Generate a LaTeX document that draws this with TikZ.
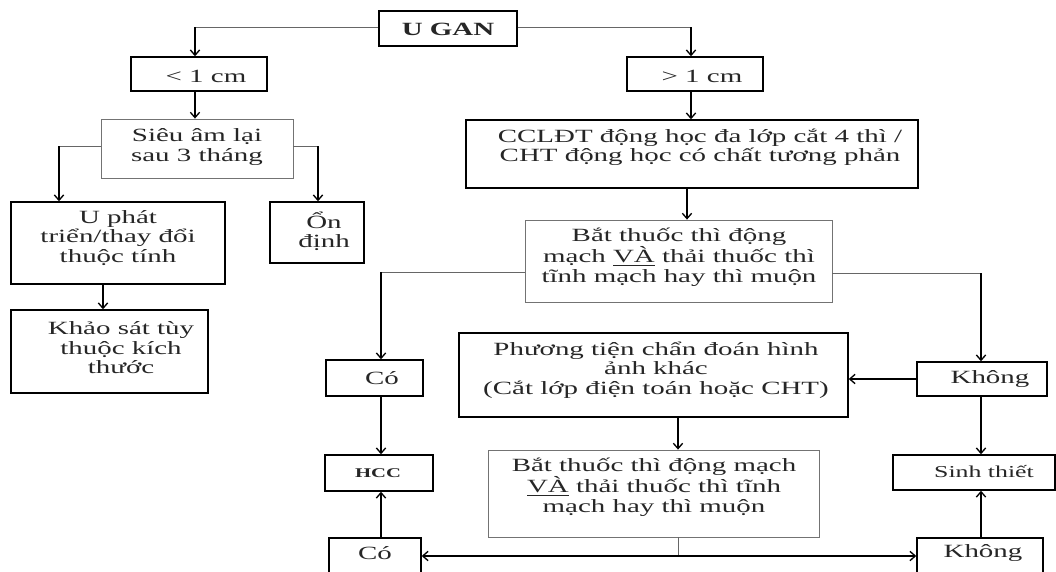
\documentclass[tikz,border=0pt]{standalone}
\usepackage{fontspec}
\setmainfont{Liberation Serif}[FakeStretch=1.55]
\usetikzlibrary{arrows.meta}
\begin{document}
\begin{tikzpicture}[x=0.75pt,y=-0.75pt,
  box/.style={draw=black,line width=1.1pt,inner sep=0pt},
  thinbox/.style={draw=black!55,line width=0.6pt,inner sep=0pt},
  wh/.style 2 args={minimum width=#1*0.75pt,minimum height=#2*0.75pt},
  txt/.style={inner sep=0pt,align=center,text=black!85,font=\fontsize{14}{14.6}\selectfont},
  hl/.style={draw=black!60,line width=0.6pt},
  ml/.style={draw=black,line width=0.8pt},
  vl/.style={draw=black,line width=1.1pt},
  arr/.style={-{Straight Barb[length=4pt,width=7pt,line width=1pt]}},
]
\useasboundingbox (0,0) rectangle (1056,571);
\clip (0,0) rectangle (1056,571);
\fill[white] (0,0) rectangle (1056,571);

% boxes
\node[box,wh={138}{35}] (ugan) at (448,28.5) {};
\node[box,wh={136}{34}] (lt) at (199,74) {};
\node[box,wh={136}{34}] (gt) at (695,74) {};
\node[thinbox,wh={192}{59}] (sieu) at (197,148.5) {};
\node[box,wh={214}{82}] (uphat) at (118,243) {};
\node[box,wh={94}{61}] (ondinh) at (317,232.5) {};
\node[box,wh={197}{83}] (khaosat) at (109.5,351.5) {};
\node[box,wh={452}{68}] (cclt) at (692,154) {};
\node[thinbox,wh={307}{82}] (bat1) at (678.5,261) {};
\node[box,wh={97}{36}] (co1) at (374.5,378) {};
\node[box,wh={108}{36}] (hcc) at (379,473) {};
\node[box,wh={92}{42}] (co2) at (375,559) {};
\node[box,wh={389}{84}] (pt) at (653.5,375) {};
\node[box,wh={130}{34}] (khong1) at (982,379) {};
\node[thinbox,wh={331}{87}] (bat2) at (653.5,493.5) {};
\node[box,wh={162}{35}] (sinh) at (974,472.5) {};
\node[box,wh={126}{42}] (khong2) at (980,559) {};

% texts
\node[txt,font=\bfseries\fontsize{14}{14.6}\selectfont] (uganT) at (448,29) {U GAN};
\node[txt] (ltT) at (206,76) {< 1 cm};
\node[txt] (gtT) at (702,76) {> 1 cm};
\node[txt] (sieuT) at (197,147) {Siêu âm lại\\sau 3 tháng};
\node[txt] (uphatT) at (118,238) {U phát\\triển/thay đổi\\thuộc tính};
\node[txt] (ondinhT) at (324,231) {Ổn\\định};
\node[txt] (khaosatT) at (121,348) {Khảo sát tùy\\thuộc kích\\thước};
\node[txt] (ccltT) at (700,147) {CCLĐT động học đa lớp cắt 4 thì /\\CHT động học có chất tương phản};
\node[txt] (bat1T) at (679,257) {Bắt thuốc thì động\\mạch \underline{VÀ} thải thuốc thì\\tĩnh mạch hay thì muộn};
\node[txt] (co1T) at (382,378) {Có};
\node[txt,font=\bfseries\fontsize{10}{11}\selectfont] (hccT) at (378,473) {HCC};
\node[txt] (co2T) at (375,553) {Có};
\node[txt] (ptT) at (656,370) {Phương tiện chẩn đoán hình\\ảnh khác\\(Cắt lớp điện toán hoặc CHT)};
\node[txt] (khong1T) at (990,379) {Không};
\node[txt] (bat2T) at (654,487) {Bắt thuốc thì động mạch\\\underline{VÀ} thải thuốc thì tĩnh\\mạch hay thì muộn};
\node[txt,font=\fontsize{12.5}{13}\selectfont] (sinhT) at (984,472) {Sinh thiết};
\node[txt] (khong2T) at (983,553) {Không};

% connectors
\coordinate (jL) at (195,27);
\coordinate (jR) at (691,27);
\draw[hl] (jL -| ugan.west) -- (jL);
\draw[vl,arr] (jL) -- (jL |- lt.north);
\draw[hl] (jR -| ugan.east) -- (jR);
\draw[vl,arr] (jR) -- (jR |- gt.north);
\draw[vl,arr] (jL |- lt.south) -- (jL |- sieu.north);
\draw[vl,arr] (jR |- gt.south) -- (jR |- cclt.north);

\coordinate (j4) at (59,146);
\coordinate (j5) at (318,146);
\draw[hl] (j4 -| sieu.west) -- (j4);
\draw[vl,arr] (j4) -- (j4 |- uphat.north);
\draw[hl] (j5 -| sieu.east) -- (j5);
\draw[vl,arr] (j5) -- (j5 |- ondinh.north);

\coordinate (j6) at (103,284);
\draw[vl,arr] (j6 |- uphat.south) -- (j6 |- khaosat.north);

\coordinate (j7) at (687,188);
\draw[vl,arr] (j7 |- cclt.south) -- (j7 |- bat1.north);

\coordinate (j8) at (381,272);
\coordinate (j9) at (981,273);
\draw[hl] (j8 -| bat1.west) -- (j8);
\draw[vl,arr] (j8) -- (j8 |- co1.north);
\draw[hl] (j9 -| bat1.east) -- (j9);
\draw[vl,arr] (j9) -- (j9 |- khong1.north);

\draw[vl,arr] (j8 |- co1.south) -- (j8 |- hcc.north);
\draw[ml,arr] (khong1.west) -- (khong1.west -| pt.east);
\draw[vl,arr] (j9 |- khong1.south) -- (j9 |- sinh.north);

\coordinate (j10) at (678,556);
\draw[vl,arr] (j10 |- pt.south) -- (j10 |- bat2.north);
\draw[hl] (j10 |- bat2.south) -- (j10);
\draw[ml,arr] (j10) -- (j10 -| co2.east);
\draw[ml,arr] (j10) -- (j10 -| khong2.west);

\draw[vl,arr] (j8 |- co2.north) -- (j8 |- hcc.south);
\draw[vl,arr] (j9 |- khong2.north) -- (j9 |- sinh.south);
\end{tikzpicture}
\end{document}
